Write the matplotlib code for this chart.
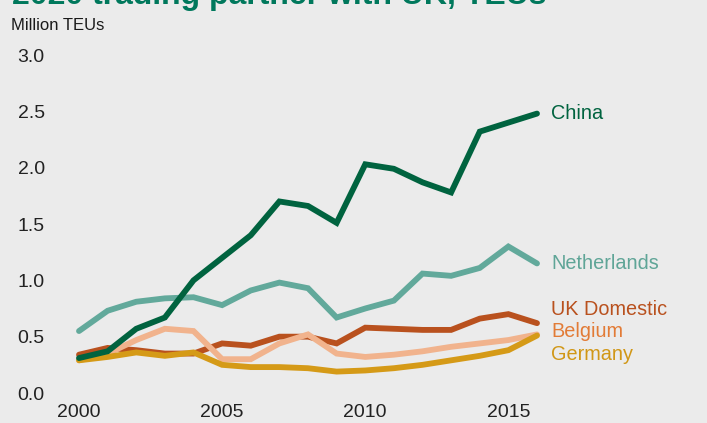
import matplotlib
matplotlib.use("Agg")
import matplotlib.pyplot as plt

# container traffic with the UK, million TEUs
years = list(range(2000, 2017))
china = [0.31, 0.37, 0.57, 0.67, 1.00, 1.20, 1.40, 1.70, 1.66, 1.51,
         2.03, 1.99, 1.87, 1.78, 2.32, 2.40, 2.48]
netherlands = [0.55, 0.73, 0.81, 0.84, 0.85, 0.78, 0.91, 0.98, 0.93, 0.67,
               0.75, 0.82, 1.06, 1.04, 1.11, 1.30, 1.15]
uk_domestic = [0.34, 0.40, 0.38, 0.35, 0.35, 0.44, 0.42, 0.50, 0.50, 0.44,
               0.58, 0.57, 0.56, 0.56, 0.66, 0.70, 0.62]
belgium = [0.29, 0.35, 0.47, 0.57, 0.55, 0.30, 0.30, 0.44, 0.52, 0.35,
           0.32, 0.34, 0.37, 0.41, 0.44, 0.47, 0.52]
germany = [0.29, 0.32, 0.36, 0.33, 0.36, 0.25, 0.23, 0.23, 0.22, 0.19,
           0.20, 0.22, 0.25, 0.29, 0.33, 0.38, 0.51]

# name, values, line colour, label colour, label y
series = [
    ("Netherlands", netherlands, "#62a99b", "#5fa597", 1.15),
    ("UK Domestic", uk_domestic, "#b9511e", "#b9511e", 0.745),
    ("Belgium", belgium, "#f1b38d", "#e27b36", 0.55),
    ("Germany", germany, "#d59a17", "#d19716", 0.34),
    ("China", china, "#00633f", "#00633f", 2.48),
]

BG = "#ebebeb"
plt.rcParams["font.family"] = ["Liberation Sans", "DejaVu Sans"]

W, H = 707, 423
fig = plt.figure(figsize=(W / 100, H / 100), dpi=100, facecolor=BG)
# axes from x=60..700 px, y=55..393 px
ax = fig.add_axes([60 / W, (H - 393) / H, 640 / W, 338 / H], facecolor=BG)

for name, vals, col, lcol, ly in series:
    ax.plot(years, vals, color=col, lw=4.2, solid_capstyle="round",
            solid_joinstyle="miter", clip_on=False)
    ax.text(years[-1] + 0.5, ly, name, color=lcol, fontsize=14.3,
            va="center", ha="left")

ax.set_xlim(2000 - 19 / 28.625, 2000 + 621 / 28.625)
ax.set_ylim(0, 3)
ax.set_xticks([2000, 2005, 2010, 2015])
ax.set_yticks([0, 0.5, 1, 1.5, 2, 2.5, 3])
ax.set_yticklabels(["0.0", "0.5", "1.0", "1.5", "2.0", "2.5", "3.0"])
ax.tick_params(length=0, labelsize=14, labelcolor="#222222")
ax.tick_params(axis="y", pad=11)
ax.tick_params(axis="x", pad=8)
for s in ax.spines.values():
    s.set_visible(False)

fig.text(11 / W, 1 - 26 / H, "Million TEUs", fontsize=12, color="#1a1a1a",
         va="center", ha="left")
fig.text(12 / W, 1 - 4 / H, "2020 trading partner with UK, TEUs",
         fontsize=23, fontweight="bold", color="#00785c",
         va="baseline", ha="left")

fig.savefig("out.png", dpi=100, facecolor=BG)
